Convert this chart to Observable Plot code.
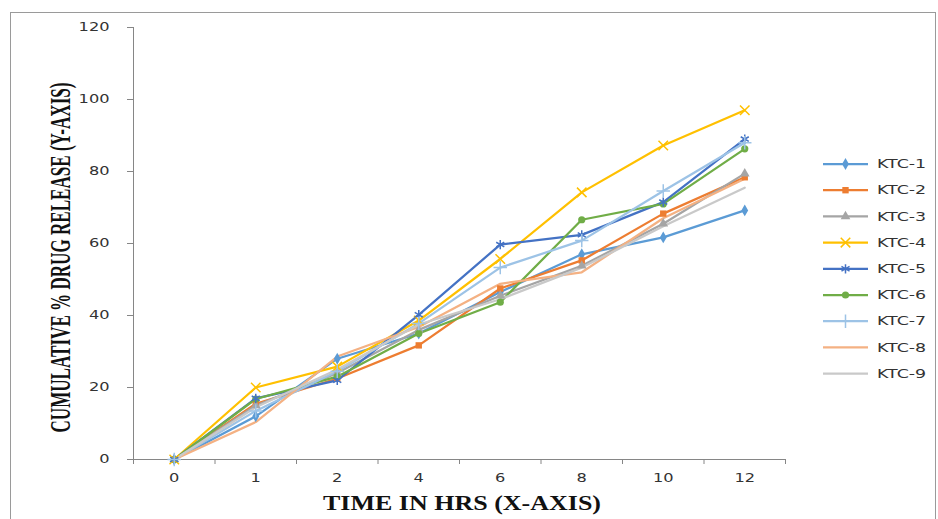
<!DOCTYPE html>
<html><head><meta charset="utf-8">
<script src="https://cdn.jsdelivr.net/npm/d3@7"></script>
<script src="https://cdn.jsdelivr.net/npm/@observablehq/plot@0.6"></script>
<style>body{margin:0;background:#fff}#chart{width:938px;height:519px}</style>
</head><body><div id="chart"></div>
<script>
// ---- data ----
const times = ["0", "1", "2", "4", "6", "8", "10", "12"];
const seriesNames = ["KTC-1", "KTC-2", "KTC-3", "KTC-4", "KTC-5", "KTC-6", "KTC-7", "KTC-8", "KTC-9"];
const ktc1 = [0, 12.0, 28.0, 35.0, 46.5, 57.0, 61.7, 69.2];
const ktc2 = [0, 15.5, 22.5, 31.7, 47.5, 55.3, 68.3, 78.4];
const ktc3 = [0, 15.0, 24.0, 36.0, 45.5, 53.8, 65.5, 79.4];
const ktc4 = [0, 20.0, 25.8, 38.6, 55.7, 74.2, 87.2, 97.0];
const ktc5 = [0, 17.0, 22.0, 40.2, 59.7, 62.4, 71.5, 89.0];
const ktc6 = [0, 16.8, 23.0, 35.0, 43.7, 66.6, 71.0, 86.3];
const ktc7 = [0, 13.5, 24.5, 37.8, 53.3, 60.8, 74.6, 88.0];
const ktc8 = [0, 10.4, 28.6, 36.8, 48.8, 52.0, 67.0, 78.0];
const ktc9 = [0, 14.5, 25.0, 37.5, 44.5, 53.3, 64.8, 75.5];
const seriesValues = [ktc1, ktc2, ktc3, ktc4, ktc5, ktc6, ktc7, ktc8, ktc9];
const seriesColors = ["#5B9BD5", "#ED7D31", "#A5A5A5", "#FFC000", "#4472C4", "#70AD47", "#9DC3E6", "#F4B183", "#C9C9C9"];
const seriesSymbols = ["diamond", "square", "triangle", "times", "asterisk", "circle", "plus", null, null];
const yTicks = [0, 20, 40, 60, 80, 100, 120];
const xTitle = "TIME IN HRS (X-AXIS)";
const yTitle = "CUMULATIVE % DRUG RELEASE (Y-AXIS)";

// ---- build ----
const filled = new Set(["diamond", "square", "triangle", "circle"]);
const rows = seriesNames.flatMap((name, s) =>
  seriesValues[s].map((v, i) => ({name, i, v, sym: seriesSymbols[s]})));
const markNames = seriesNames.filter((n, s) => seriesSymbols[s]);
const markSyms = seriesSymbols.filter(Boolean);
const axisGray = "#868686";
const rFill = 3.6, rStroke = 4.4;

const plot = Plot.plot({
  width: 938, height: 519,
  marginLeft: 133, marginRight: 153, marginTop: 27, marginBottom: 60,
  style: {fontFamily: "DejaVu Sans", fontSize: "12px", color: "#333", background: "white"},
  x: {type: "linear", domain: [-0.5, times.length - 0.5]},
  y: {domain: [0, 120]},
  color: {domain: seriesNames, range: seriesColors},
  symbol: {domain: markNames, range: markSyms},
  marks: [
    Plot.ruleX([-0.5], {stroke: axisGray}),
    Plot.ruleY([0], {stroke: axisGray}),
    Plot.axisY({ticks: yTicks, tickSize: 6, tickPadding: 18, stroke: axisGray, label: null}),
    Plot.axisX({ticks: d3.range(times.length + 1).map(k => k - 0.5), tickSize: 5, stroke: axisGray, tickFormat: () => "", label: null}),
    Plot.axisX({ticks: d3.range(times.length), tickSize: 0, tickPadding: 14, tickFormat: i => times[i], label: null}),
    Plot.line(rows, {x: "i", y: "v", z: "name", stroke: "name", strokeWidth: 2.25}),
    Plot.dot(rows.filter(d => d.sym && filled.has(d.sym)), {x: "i", y: "v", symbol: "name", fill: "name", stroke: "none", r: rFill}),
    Plot.dot(rows.filter(d => d.sym && !filled.has(d.sym)), {x: "i", y: "v", symbol: "name", stroke: "name", fill: "none", strokeWidth: 1.5, r: rStroke})
  ]
});
document.getElementById("chart").appendChild(plot);

const svg = d3.select(plot);
// outer chart border
svg.insert("rect", ":first-child").attr("x", 10.5).attr("y", 12.5).attr("width", 925).attr("height", 512)
  .attr("fill", "none").attr("stroke", "#9a9a9a");

// stretch tick labels horizontally to match the reference
function stretch(sel, k) {
  sel.each(function() {
    if (!this.textContent) return;
    const w = this.getComputedTextLength();
    this.setAttribute("textLength", w * k);
    this.setAttribute("lengthAdjust", "spacingAndGlyphs");
  });
}
stretch(svg.selectAll('[aria-label="y-axis tick label"] text, [aria-label="x-axis tick label"] text'), 1.35);

// axis titles
svg.append("text").attr("transform", "translate(462,510) scale(1.3,1)").attr("text-anchor", "middle")
  .attr("font-family", "Liberation Serif").attr("font-weight", "bold").attr("font-size", 20)
  .attr("fill", "#111").text(xTitle);
svg.append("text").attr("transform", "translate(70,257.5) rotate(-90) scale(1,1.75)").attr("text-anchor", "middle")
  .attr("font-family", "Liberation Serif").attr("font-weight", "bold").attr("font-size", 17)
  .attr("fill", "#111").attr("textLength", 350).attr("lengthAdjust", "spacingAndGlyphs").text(yTitle);

// legend
const lg = svg.append("g").attr("font-family", "DejaVu Sans").attr("font-size", 12).attr("fill", "#333")
  .attr("text-anchor", "start");
seriesNames.forEach((name, s) => {
  const y = 164 + s * 26.2;
  const c = seriesColors[s];
  lg.append("line").attr("x1", 823).attr("x2", 868).attr("y1", y).attr("y2", y)
    .attr("stroke", c).attr("stroke-width", 2.25);
  const sym = seriesSymbols[s];
  if (sym) {
    const types = {diamond: d3.symbolDiamond, square: d3.symbolSquare, triangle: d3.symbolTriangle,
      times: d3.symbolTimes, asterisk: d3.symbolAsterisk, circle: d3.symbolCircle, plus: d3.symbolPlus};
    const isF = filled.has(sym);
    const r = isF ? rFill : rStroke;
    lg.append("path").attr("transform", `translate(845.5,${y})`)
      .attr("d", d3.symbol(types[sym], r * r * Math.PI)())
      .attr("fill", isF ? c : "none").attr("stroke", isF ? "none" : c).attr("stroke-width", 1.5);
  }
  lg.append("text").attr("x", 877).attr("y", y).attr("dy", "0.35em").attr("text-anchor", "start").text(name);
});
stretch(lg.selectAll("text"), 1.45);
</script>
</body></html>
